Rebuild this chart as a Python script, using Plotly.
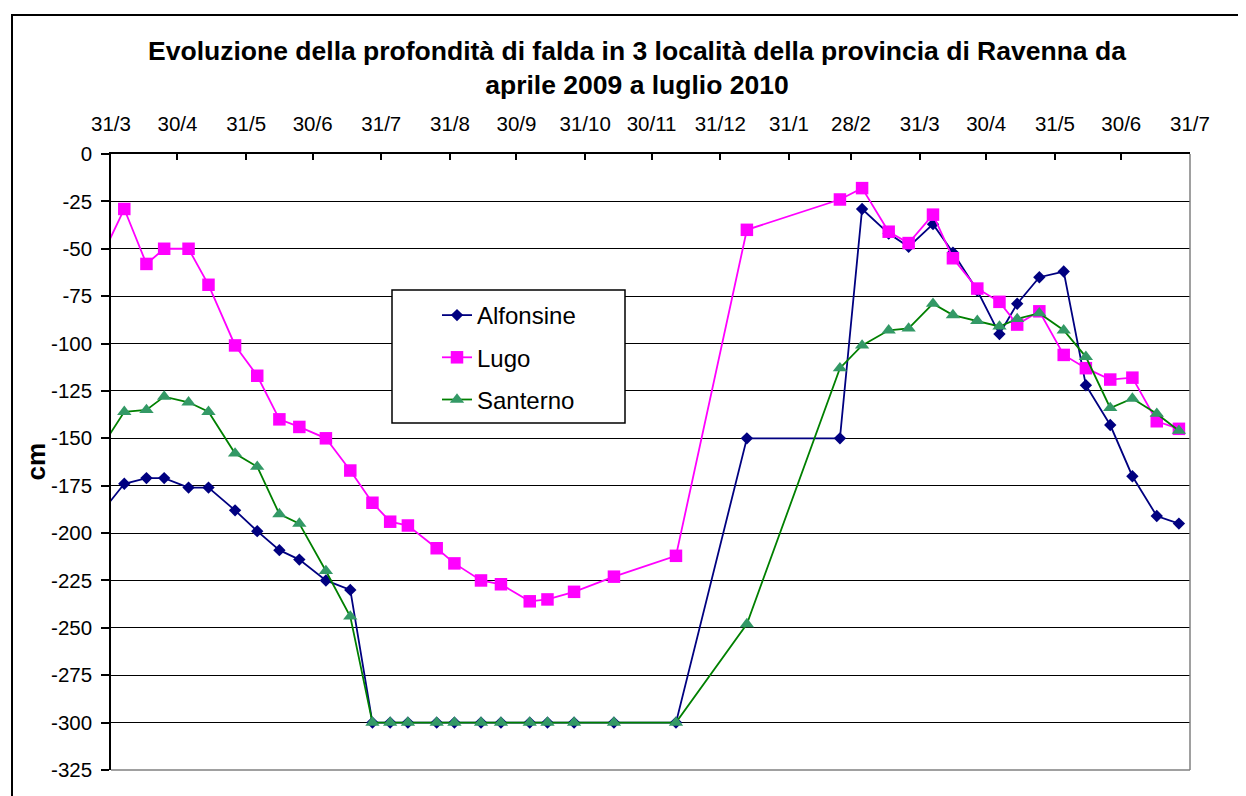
import plotly.graph_objects as go

# ---------------- data ----------------
dates = [
    "2009-03-26", "2009-04-06", "2009-04-16", "2009-04-24", "2009-05-05", "2009-05-14",
    "2009-05-26", "2009-06-05", "2009-06-15", "2009-06-24", "2009-07-06", "2009-07-17",
    "2009-07-27", "2009-08-04", "2009-08-12", "2009-08-25", "2009-09-02", "2009-09-14",
    "2009-09-23", "2009-10-06", "2009-10-14", "2009-10-26", "2009-11-13", "2009-12-11",
    "2010-01-12", "2010-02-23", "2010-03-05", "2010-03-17", "2010-03-26", "2010-04-06",
    "2010-04-15", "2010-04-26", "2010-05-06", "2010-05-14", "2010-05-24", "2010-06-04",
    "2010-06-14", "2010-06-25", "2010-07-05", "2010-07-16", "2010-07-26",
]

alfonsine = [
    -190, -174, -171, -171, -176, -176,
    -188, -199, -209, -214, -225, -230,
    -300, -300, -300, -300, -300, -300,
    -300, -300, -300, -300, -300, -300,
    -150, -150, -29, -42, -49, -37,
    -52, -72, -95, -79, -65, -62,
    -122, -143, -170, -191, -195,
]

lugo = [
    -56, -29, -58, -50, -50, -69,
    -101, -117, -140, -144, -150, -167,
    -184, -194, -196, -208, -216, -225,
    -227, -236, -235, -231, -223, -212,
    -40, -24, -18, -41, -47, -32,
    -55, -71, -78, -90, -83, -106,
    -113, -119, -118, -141, -145,
]

santerno = [
    -156, -136, -135, -128, -131, -136,
    -158, -165, -190, -195, -220, -244,
    -300, -300, -300, -300, -300, -300,
    -300, -300, -300, -300, -300, -300,
    -248, -113, -101, -93, -92, -79,
    -85, -88, -91, -87, -84, -93,
    -107, -134, -129, -137, -146,
]

tick_dates = [
    "2009-03-31", "2009-04-30", "2009-05-31", "2009-06-30", "2009-07-31", "2009-08-31",
    "2009-09-30", "2009-10-31", "2009-11-30", "2009-12-31", "2010-01-31", "2010-02-28",
    "2010-03-31", "2010-04-30", "2010-05-31", "2010-06-30", "2010-07-31",
]
tick_labels = [
    "31/3", "30/4", "31/5", "30/6", "31/7", "31/8", "30/9", "31/10", "30/11",
    "31/12", "31/1", "28/2", "31/3", "30/4", "31/5", "30/6", "31/7",
]
y_ticks = [0, -25, -50, -75, -100, -125, -150, -175, -200, -225, -250, -275, -300, -325]
y_labels = ["0", "-25", "-50", "-75", "-100", "-125", "-150", "-175", "-200",
            "-225", "-250", "-275", "-300", "-325"]

title_text = ("Evoluzione della profondità di falda in 3 località della provincia di Ravenna da"
              "<br>aprile 2009 a luglio 2010")

# ---------------- layout helpers ----------------
OFF = 8                      # page offset of the plot div (body margin)
W, H = 1246 - OFF, 796 - OFF
PL, PR, PT, PB = 111, 1190, 154, 770   # plot area in page pixels
ML, MT = PL - OFF, PT - OFF
MR, MB = W - (PR - OFF), H - (PB - OFF)
PW, PH = PR - PL, PB - PT
FONT = "Liberation Sans, Arial, sans-serif"


def px_x(px):
    return (px - PL) / PW


def px_y(py):
    return (PB - py) / PH


fig = go.Figure()

fig.add_trace(go.Scatter(
    x=dates, y=alfonsine, name="Alfonsine", mode="lines+markers",
    line=dict(color="#000080", width=1.8),
    marker=dict(symbol="diamond", size=9.5, color="#000080", line=dict(width=0)),
    legendgroup="a",
))
fig.add_trace(go.Scatter(
    x=dates, y=lugo, name="Lugo", mode="lines+markers",
    line=dict(color="#FF00FF", width=1.8),
    marker=dict(symbol="square", size=12.5, color="#FF00FF", line=dict(width=0)),
    legendgroup="b",
))
fig.add_trace(go.Scatter(
    x=dates, y=santerno, name="Santerno", mode="lines+markers",
    line=dict(color="#008000", width=1.8),
    marker=dict(symbol="triangle-up", size=12.5, color="#339966", line=dict(width=0)),
    legendgroup="c",
))

shapes = [
    # outer chart border (partially cut by the picture edge)
    dict(type="rect", xref="paper", yref="paper",
         x0=px_x(12), x1=px_x(1252), y0=px_y(802), y1=px_y(15),
         line=dict(color="black", width=2), fillcolor="rgba(0,0,0,0)", layer="below"),
    # grey right and bottom plot-area edges
    dict(type="line", xref="paper", yref="paper", x0=1, x1=1, y0=0, y1=1,
         line=dict(color="#808080", width=1.5), layer="above"),
    dict(type="line", xref="paper", yref="paper", x0=0, x1=1, y0=0, y1=0,
         line=dict(color="#808080", width=1.5), layer="above"),
    # legend box
    dict(type="rect", xref="paper", yref="paper",
         x0=px_x(392), x1=px_x(625), y0=px_y(423), y1=px_y(290),
         line=dict(color="black", width=1.5), fillcolor="white", layer="above"),
]

fig.update_layout(
    width=W, height=H,
    margin=dict(l=ML, r=MR, t=MT, b=MB, autoexpand=False),
    paper_bgcolor="white", plot_bgcolor="white",
    font=dict(family=FONT, color="black"),
    title=dict(
        text=title_text, xref="paper", x=px_x(637), xanchor="center",
        yref="container", y=1 - 51.5 / H, yanchor="top",
        font=dict(family=FONT, size=26.5, color="black", weight="bold"),
    ),
    showlegend=True,
    legend=dict(
        x=px_x(437), y=px_y(293), xanchor="left", yanchor="top",
        bgcolor="rgba(0,0,0,0)", borderwidth=0,
        font=dict(family=FONT, size=24, color="black"),
        traceorder="grouped", tracegroupgap=8, itemwidth=30,
    ),
    shapes=shapes,
    annotations=[
        dict(text="cm", xref="paper", yref="paper", x=px_x(35.5), y=0.5,
             xanchor="center", yanchor="middle", textangle=-90, showarrow=False,
             font=dict(family=FONT, size=26, color="black", weight="bold")),
    ],
    xaxis=dict(
        type="date", side="top", range=[tick_dates[0], tick_dates[-1]],
        tickmode="array", tickvals=tick_dates, ticktext=tick_labels,
        ticks="inside", ticklen=6, tickwidth=1.5, tickcolor="black",
        ticklabelstandoff=13,
        showline=True, linecolor="black", linewidth=1.5,
        showgrid=False, zeroline=False,
        tickfont=dict(family=FONT, size=20.5, color="black"),
        fixedrange=True,
    ),
    yaxis=dict(
        range=[-325, 0], tickmode="array", tickvals=y_ticks, ticktext=y_labels,
        ticks="outside", ticklen=8, tickwidth=1.5, tickcolor="black",
        ticklabelstandoff=5,
        showline=True, linecolor="black", linewidth=1.5,
        showgrid=True, gridcolor="black", gridwidth=1,
        zeroline=False,
        tickfont=dict(family=FONT, size=20.5, color="black"),
        fixedrange=True,
    ),
)

fig.write_html("out.html")
